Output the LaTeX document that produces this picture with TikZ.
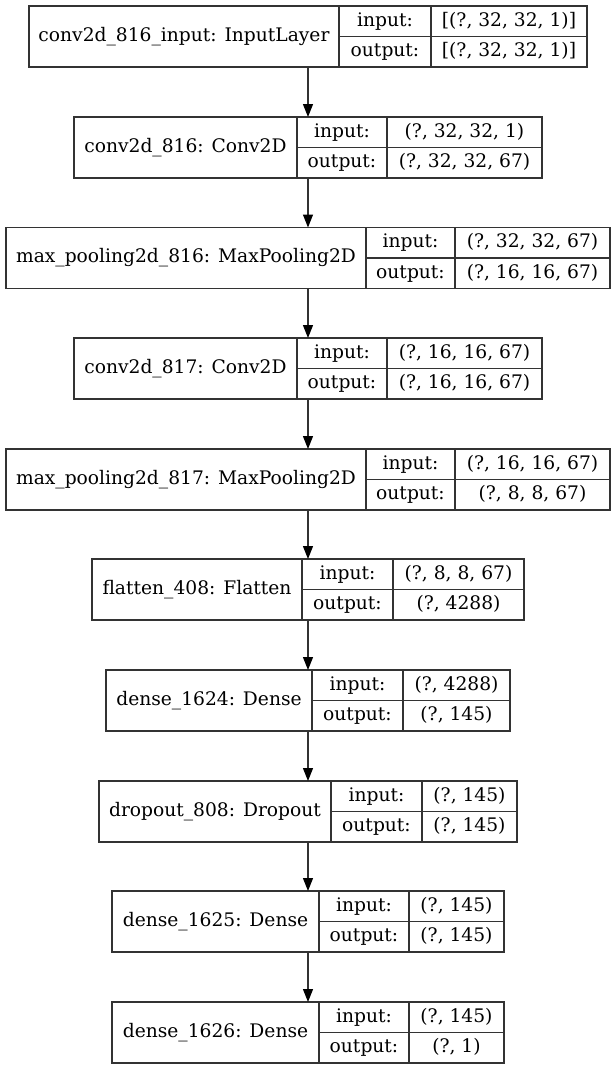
\documentclass[tikz,border=0pt]{standalone}
\usepackage{fontspec}
\setmainfont{DejaVu Serif}
\usetikzlibrary{arrows.meta}

\definecolor{edgegray}{HTML}{333333}

\tikzset{
  layer/.style={draw=edgegray, line width=1.33pt, inner sep=0pt, outer sep=0pt, minimum height=61pt},
  rule/.style={draw=edgegray, line width=1.33pt},
  flow/.style={draw=edgegray, line width=1.33pt, -{Triangle[length=13pt, width=10pt, color=black]}},
  every node/.append style={text height=14pt, text depth=4.5pt, inner sep=0pt}
}

% name, left, split1, split2, right, top, label, input, output
\newcommand{\layerrow}[9]{%
  \node[layer, minimum width={(#5-#2)*1pt}] (#1) at ({(#2+#5)/2},{#6+30.5}) {};
  \draw[rule] (#3,#6) -- (#3,{#6+61}) (#4,#6) -- (#4,{#6+61})
              (#3,{#6+30.5}) -- (#5,{#6+30.5});
  \node (#1-label) at ({(#2+#3)/2},{#6+30.5}) {#7};
  \node (#1-inkey) at ({(#3+#4)/2},{#6+15.25}) {input:};
  \node (#1-outkey) at ({(#3+#4)/2},{#6+45.75}) {output:};
  \node (#1-in) at ({(#4+#5)/2},{#6+15.25}) {#8};
  \node (#1-out) at ({(#4+#5)/2},{#6+45.75}) {#9};
}

\begin{document}
\begin{tikzpicture}[x=1pt, y=-1pt, font=\fontsize{18.67}{22}\selectfont]
  \useasboundingbox[fill=white] (0,0) rectangle (616,1069);

  \layerrow{l1}{29}{339}{431}{587}{6}{conv2d\_816\_input: InputLayer}{[(?, 32, 32, 1)]}{[(?, 32, 32, 1)]}
  \layerrow{l2}{74}{297}{387}{542}{117}{conv2d\_816: Conv2D}{(?, 32, 32, 1)}{(?, 32, 32, 67)}
  \layerrow{l3}{6}{366}{455}{610}{227.5}{max\_pooling2d\_816: MaxPooling2D}{(?, 32, 32, 67)}{(?, 16, 16, 67)}
  \layerrow{l4}{74}{297}{387}{542}{338}{conv2d\_817: Conv2D}{(?, 16, 16, 67)}{(?, 16, 16, 67)}
  \layerrow{l5}{6}{366}{455}{610}{449}{max\_pooling2d\_817: MaxPooling2D}{(?, 16, 16, 67)}{(?, 8, 8, 67)}
  \layerrow{l6}{92}{302}{393}{524}{559}{flatten\_408: Flatten}{(?, 8, 8, 67)}{(?, 4288)}
  \layerrow{l7}{106}{312}{403}{510}{670}{dense\_1624: Dense}{(?, 4288)}{(?, 145)}
  \layerrow{l8}{99}{331}{422}{517}{781}{dropout\_808: Dropout}{(?, 145)}{(?, 145)}
  \layerrow{l9}{112}{319}{409}{504}{891}{dense\_1625: Dense}{(?, 145)}{(?, 145)}
  \layerrow{l10}{112}{319}{409}{504}{1002}{dense\_1626: Dense}{(?, 145)}{(?, 1)}

  % connectors
  \foreach \i [evaluate=\i as \j using int(\i+1)] in {1,...,9}
    \draw[flow] (l\i.south) -- (l\j.north);
\end{tikzpicture}
\end{document}
